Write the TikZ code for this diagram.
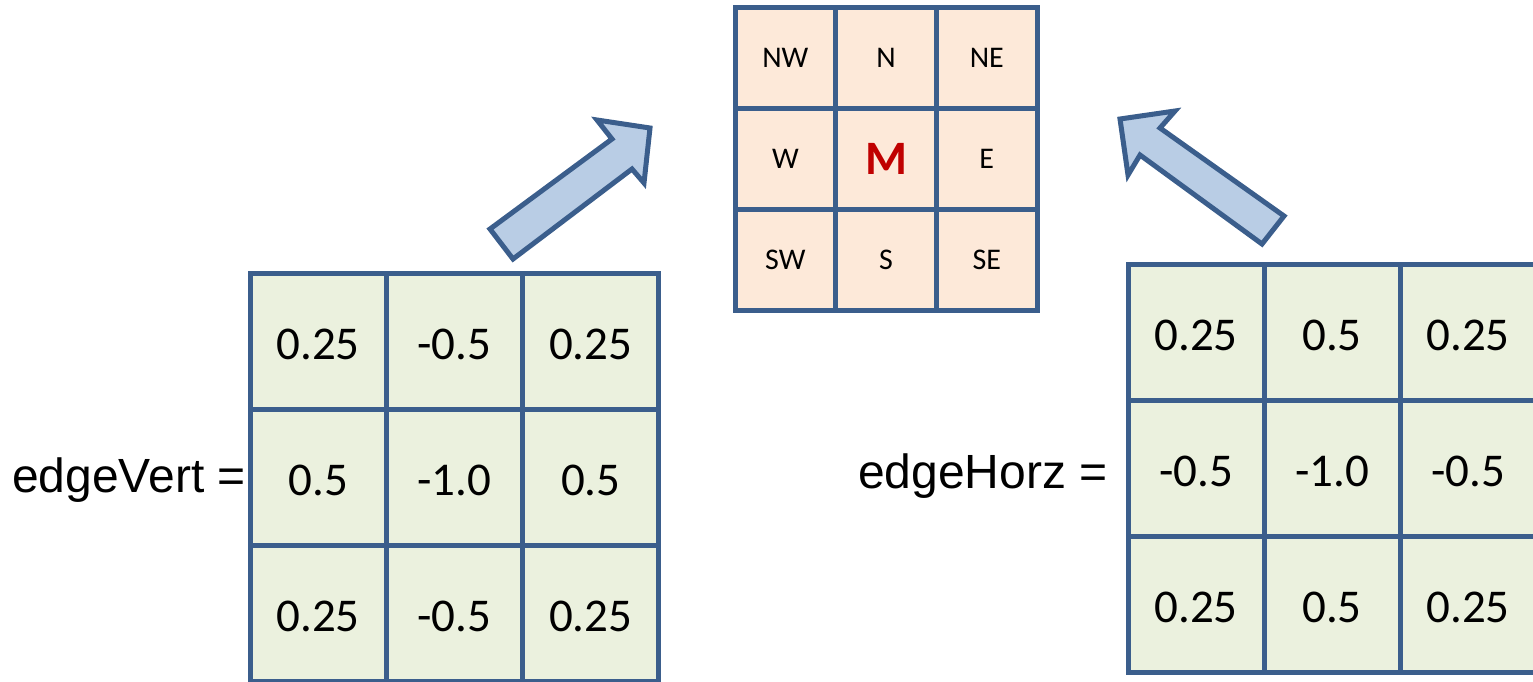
\documentclass[tikz,border=0pt]{standalone}
\usepackage{fontspec}
\setmainfont{Carlito}
\newfontfamily\arialfont{Liberation Sans}
\definecolor{gridblue}{RGB}{59,94,140}
\definecolor{cellgreen}{RGB}{235,241,222}
\definecolor{cellpeach}{RGB}{253,233,217}
\definecolor{arrowfill}{RGB}{185,205,229}
\definecolor{mred}{RGB}{192,0,0}
\begin{document}
\begin{tikzpicture}[x=1pt,y=-1pt,
  cellbox/.style={draw=gridblue, line width=5pt, inner sep=0pt, outer sep=0pt,
    minimum width=#1, minimum height=#1},
  kgreen/.style={cellbox=136.3pt, fill=cellgreen, font=\fontsize{47}{56}\selectfont},
  kgreenr/.style={cellbox=136pt, fill=cellgreen, font=\fontsize{47}{56}\selectfont},
  kpeach/.style={cellbox=100.7pt, fill=cellpeach, font=\fontsize{30}{36}\selectfont},
  numtext/.style={anchor=center, inner sep=0pt, font=\fontsize{47}{56}\selectfont},
  blockarrow/.style={draw=gridblue, fill=arrowfill, line width=5pt, line join=miter},
  eqlabel/.style={anchor=base west, inner sep=0pt, font=\arialfont\fontsize{48}{57}\selectfont}]
\useasboundingbox (0,0) rectangle (1533,682);
\clip (0,0) rectangle (1533,682);

% vertical edge kernel (left)
\foreach \t [count=\i from 0] in {0.25,-0.5,0.25,0.5,-1.0,0.5,0.25,-0.5,0.25} {
  \pgfmathsetmacro\cx{250+136.3*(mod(\i,3)+0.5)}
  \pgfmathsetmacro\cy{273+136.3*(int(\i/3)+0.5)}
  \node[kgreen] (v\i) at (\cx,\cy) {};
  \node[numtext] (vt\i) at ([yshift=-3pt]v\i.center) {\t};
}
\node[eqlabel] (vlabel) at (12,492) {edgeVert =};

% horizontal edge kernel (right)
\foreach \t [count=\i from 0] in {0.25,0.5,0.25,-0.5,-1.0,-0.5,0.25,0.5,0.25} {
  \pgfmathsetmacro\cx{1128+136*(mod(\i,3)+0.5)}
  \pgfmathsetmacro\cy{264+136*(int(\i/3)+0.5)}
  \node[kgreenr] (h\i) at (\cx,\cy) {};
  \node[numtext] (ht\i) at ([yshift=-3pt]h\i.center) {\t};
}
\node[eqlabel] (hlabel) at (858,488) {edgeHorz =};

% neighbourhood grid (top)
\foreach \t [count=\i from 0] in {NW,N,NE,W,,E,SW,S,SE} {
  \pgfmathsetmacro\cx{735+100.7*(mod(\i,3)+0.5)}
  \pgfmathsetmacro\cy{8+100.7*(int(\i/3)+0.5)}
  \node[kpeach] (n\i) at (\cx,\cy) {\t};
}
\node[font=\bfseries\fontsize{48}{57}\selectfont, text=mred] (mid) at (n4) {M};

% block arrows
\draw[blockarrow] (490,229) -- (612,139) -- (597,120) -- (650,128)
  -- (644,183) -- (632,169) -- (513,259) -- cycle;
\draw[blockarrow] (1120,119) -- (1175,111) -- (1160,128) -- (1284,216)
  -- (1262,244) -- (1140,155) -- (1128,175) -- cycle;
\end{tikzpicture}
\end{document}
